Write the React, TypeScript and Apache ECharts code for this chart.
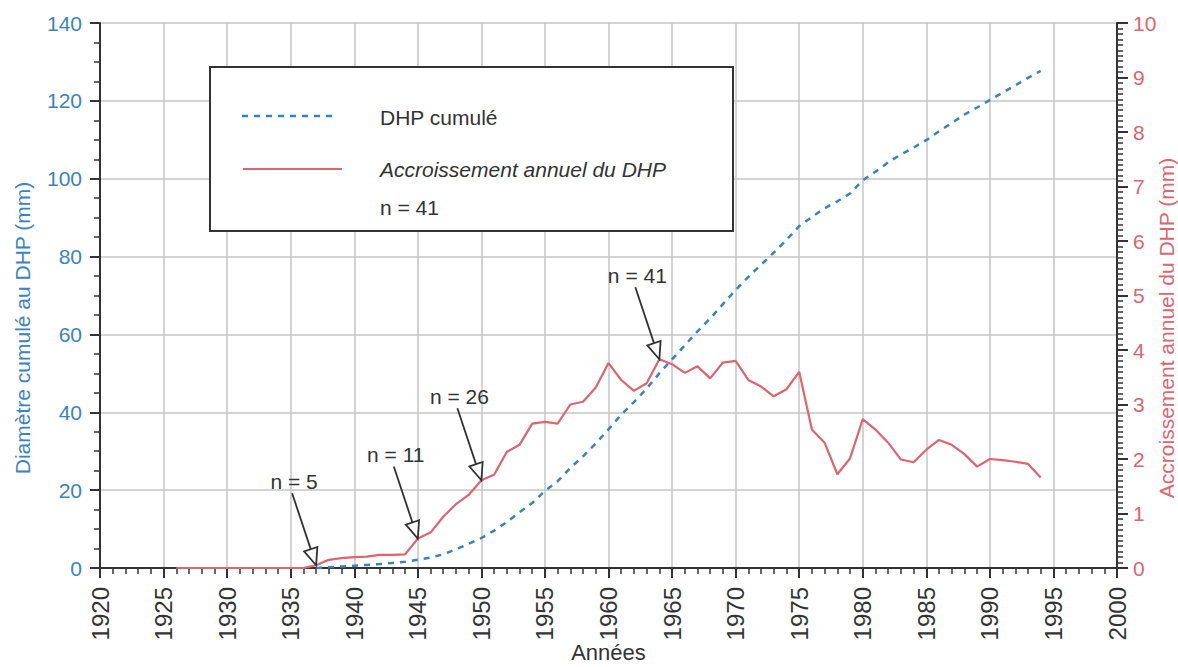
import React, { useEffect, useRef } from "react";
import * as echarts from "echarts";

// ---- Data ----
const incrementYears = [
  1926, 1927, 1928, 1929, 1930, 1931, 1932, 1933, 1934, 1935, 1936,
  1937, 1938, 1939, 1940, 1941, 1942, 1943, 1944, 1945, 1946, 1947, 1948, 1949,
  1950, 1951, 1952, 1953, 1954, 1955, 1956, 1957, 1958, 1959, 1960, 1961, 1962,
  1963, 1964, 1965, 1966, 1967, 1968, 1969, 1970, 1971, 1972, 1973, 1974, 1975,
  1976, 1977, 1978, 1979, 1980, 1981, 1982, 1983, 1984, 1985, 1986, 1987, 1988,
  1989, 1990, 1991, 1992, 1993, 1994,
];
// Accroissement annuel du DHP (mm) — right axis
const annualIncrement = [
  0, 0, 0, 0, 0, 0, 0, 0, 0, 0, 0,
  0.05, 0.15, 0.18, 0.2, 0.21, 0.24, 0.24, 0.25, 0.54, 0.65, 0.94, 1.17, 1.34,
  1.61, 1.71, 2.13, 2.26, 2.65, 2.68, 2.65, 3.0, 3.05, 3.31, 3.76, 3.45, 3.25,
  3.39, 3.83, 3.74, 3.58, 3.7, 3.48, 3.77, 3.8, 3.45, 3.33, 3.15, 3.28, 3.6,
  2.54, 2.3, 1.72, 2.01, 2.73, 2.54, 2.3, 1.99, 1.94, 2.17, 2.35, 2.26, 2.09,
  1.86, 2.0, 1.98, 1.95, 1.91, 1.66,
];

const cumulativeYears = [
  1937, 1938, 1939, 1940, 1941, 1942, 1943, 1944, 1945, 1946, 1947, 1948, 1949,
  1950, 1951, 1952, 1953, 1954, 1955, 1956, 1957, 1958, 1959, 1960, 1961, 1962,
  1963, 1964, 1965, 1966, 1967, 1968, 1969, 1970, 1971, 1972, 1973, 1974, 1975,
  1976, 1977, 1978, 1979, 1980, 1981, 1982, 1983, 1984, 1985, 1986, 1987, 1988,
  1989, 1990, 1991, 1992, 1993, 1994,
];
// DHP cumulé (mm) — left axis
const cumulativeDHP = [
  0, 0.2, 0.4, 0.6, 0.8, 1.0, 1.3, 1.6, 2.1, 2.7, 3.5, 4.8, 6.2,
  7.7, 9.6, 11.8, 14.3, 16.7, 19.8, 22.3, 25.7, 28.7, 32.0, 35.6, 39.4, 42.6,
  46.1, 50.0, 53.6, 57.2, 60.8, 64.1, 67.8, 71.4, 74.8, 77.9, 81.0, 84.3, 87.8,
  90.2, 92.4, 94.2, 96.2, 99.6, 101.8, 104.2, 106.2, 108.0, 109.9, 112.2, 114.3, 116.5,
  118.3, 120.2, 122.1, 124.0, 125.9, 127.7,
];

const annotationYears = [1937, 1945, 1950, 1964];
const annotationLabels = ["n = 5", "n = 11", "n = 26", "n = 41"];

const legendLabels = ["DHP cumulé", "Accroissement annuel du DHP", "n = 41"];
const xAxisTitle = "Années";
const leftAxisTitle = "Diamètre cumulé au DHP (mm)";
const rightAxisTitle = "Accroissement annuel du DHP (mm)";

// ---- Styles ----
const BLUE = "#3a83c3";
const RED = "#e0646e";
const DARK = "#333333";
const GRIDC = "#c6c6c6";
const FONT = '"Liberation Sans", Arial, Helvetica, sans-serif';

export default function App() {
  const ref = useRef<HTMLDivElement>(null);

  useEffect(() => {
    if (!ref.current) return;
    const chart = echarts.init(ref.current, undefined, { renderer: "svg" });

    const redData = incrementYears.map((y, i) => [y, annualIncrement[i]]);
    const blueData = cumulativeYears.map((y, i) => [y, cumulativeDHP[i]]);
    const annData = annotationYears.map((y) => [
      y,
      annualIncrement[incrementYears.indexOf(y)],
    ]);

    const option: any = {
      animation: false,
      backgroundColor: "#ffffff",
      textStyle: { fontFamily: FONT },
      grid: {
        left: 100,
        right: 61,
        top: 23,
        bottom: 99,
        containLabel: false,
        outerBoundsMode: "none",
      },
      xAxis: {
        type: "value",
        min: 1920,
        max: 2000,
        interval: 5,
        axisLine: { show: true, lineStyle: { color: DARK, width: 2 } },
        axisTick: { show: true, inside: false, length: 10, lineStyle: { color: DARK, width: 2 } },
        minorTick: { show: true, splitNumber: 5, length: 6, lineStyle: { color: DARK, width: 1.5 } },
        axisLabel: {
          rotate: 90,
          margin: 19,
          color: DARK,
          fontSize: 24,
          fontFamily: FONT,
          formatter: (v: number) => String(v),
        },
        splitLine: { show: true, lineStyle: { color: GRIDC, width: 1.5 } },
        name: xAxisTitle,
        nameLocation: "middle",
        nameGap: 73,
        nameMoveOverlap: false,
        nameTextStyle: { color: DARK, fontSize: 22, fontFamily: FONT },
      },
      yAxis: [
        {
          type: "value",
          min: 0,
          max: 140,
          interval: 20,
          position: "left",
          axisLine: { show: true, lineStyle: { color: DARK, width: 2 } },
          axisTick: { show: true, inside: false, length: 10, lineStyle: { color: DARK, width: 2 } },
          minorTick: { show: true, splitNumber: 4, length: 6, lineStyle: { color: DARK, width: 1.5 } },
          axisLabel: { color: BLUE, fontSize: 21, margin: 18, fontFamily: FONT },
          splitLine: { show: true, lineStyle: { color: GRIDC, width: 1.5 } },
        },
        {
          type: "value",
          min: 0,
          max: 10,
          interval: 1,
          position: "right",
          axisLine: { show: true, lineStyle: { color: DARK, width: 2 } },
          axisTick: { show: true, inside: false, length: 11, lineStyle: { color: DARK, width: 2 } },
          minorTick: { show: true, splitNumber: 10, length: 6, lineStyle: { color: DARK, width: 1.5 } },
          axisLabel: { color: RED, fontSize: 21, margin: 16, fontFamily: FONT },
          splitLine: { show: false },
        },
      ],
      series: [
        {
          name: legendLabels[1],
          type: "line",
          yAxisIndex: 1,
          data: redData,
          symbol: "none",
          lineStyle: { color: RED, width: 2.2 },
          z: 3,
        },
        {
          name: legendLabels[0],
          type: "line",
          yAxisIndex: 0,
          data: blueData,
          symbol: "none",
          lineStyle: { color: BLUE, width: 2.5, type: [6, 6] },
          z: 4,
        },
        {
          type: "custom",
          yAxisIndex: 1,
          data: annData,
          clip: false,
          silent: true,
          z: 10,
          renderItem: (params: any, api: any) => {
            const tip = api.coord([api.value(0), api.value(1)]);
            const sx = tip[0] - 24;
            const sy = tip[1] - 72;
            const dx = tip[0] - sx;
            const dy = tip[1] - sy;
            const len = Math.hypot(dx, dy);
            const ux = dx / len;
            const uy = dy / len;
            const px = -uy;
            const py = ux;
            const hl = 17;
            const hw = 7;
            const bx = tip[0] - ux * hl;
            const by = tip[1] - uy * hl;
            return {
              type: "group",
              children: [
                {
                  type: "line",
                  shape: { x1: sx, y1: sy, x2: bx, y2: by },
                  style: { stroke: DARK, lineWidth: 1.8 },
                },
                {
                  type: "polygon",
                  shape: {
                    points: [
                      [tip[0], tip[1]],
                      [bx + px * hw, by + py * hw],
                      [bx - px * hw, by - py * hw],
                    ],
                  },
                  style: { fill: "#ffffff", stroke: DARK, lineWidth: 1.8 },
                },
                {
                  type: "text",
                  x: sx + 2,
                  y: sy - 12,
                  style: {
                    text: annotationLabels[params.dataIndex],
                    fill: DARK,
                    fontSize: 21,
                    fontFamily: FONT,
                    align: "center",
                    verticalAlign: "middle",
                  },
                },
              ],
            };
          },
        },
      ],
      graphic: [
        {
          type: "rect",
          z: 100,
          shape: { x: 210, y: 67, width: 523, height: 164 },
          style: { fill: "#ffffff", stroke: DARK, lineWidth: 2 },
        },
        {
          type: "line",
          z: 101,
          shape: { x1: 242, y1: 116, x2: 336, y2: 116 },
          style: { stroke: BLUE, lineWidth: 2.5, lineDash: [6, 6] },
        },
        {
          type: "line",
          z: 101,
          shape: { x1: 243, y1: 169, x2: 342, y2: 169 },
          style: { stroke: RED, lineWidth: 2 },
        },
        {
          type: "text",
          z: 101,
          x: 380,
          y: 117,
          style: {
            text: legendLabels[0],
            fill: DARK,
            fontSize: 21,
            fontFamily: FONT,
            verticalAlign: "middle",
          },
        },
        {
          type: "text",
          z: 101,
          x: 380,
          y: 169,
          style: {
            text: legendLabels[1],
            fill: DARK,
            fontSize: 21,
            fontStyle: "italic",
            fontFamily: FONT,
            verticalAlign: "middle",
          },
        },
        {
          type: "text",
          z: 101,
          x: 380,
          y: 207,
          style: {
            text: legendLabels[2],
            fill: DARK,
            fontSize: 21,
            fontFamily: FONT,
            verticalAlign: "middle",
          },
        },
        {
          type: "text",
          x: 22,
          y: 328,
          rotation: Math.PI / 2,
          style: {
            text: leftAxisTitle,
            fill: BLUE,
            fontSize: 21,
            fontFamily: FONT,
            align: "center",
            verticalAlign: "middle",
          },
        },
        {
          type: "text",
          x: 1166,
          y: 328,
          rotation: Math.PI / 2,
          style: {
            text: rightAxisTitle,
            fill: RED,
            fontSize: 21,
            fontFamily: FONT,
            align: "center",
            verticalAlign: "middle",
          },
        },
      ],
    };

    chart.setOption(option);
    return () => {
      chart.dispose();
    };
  }, []);

  return (
    <div
      ref={ref}
      style={{ position: "fixed", left: 0, top: 0, width: 1178, height: 667, background: "#fff" }}
    />
  );
}
